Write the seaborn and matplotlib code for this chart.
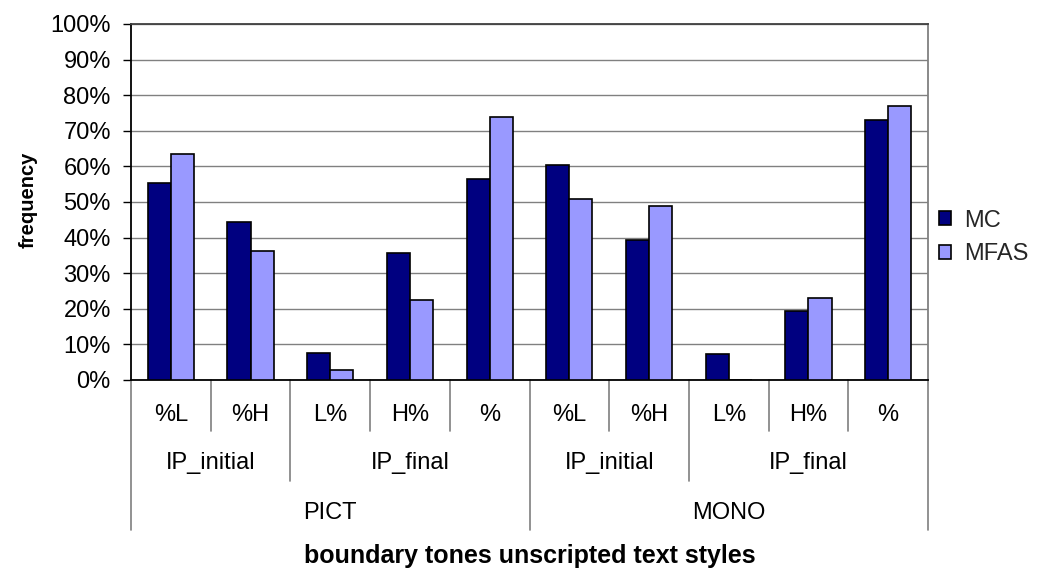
import matplotlib
matplotlib.use("Agg")
import matplotlib.pyplot as plt
import matplotlib.transforms as mtransforms
from matplotlib.ticker import PercentFormatter
import numpy as np
import pandas as pd
import seaborn as sns

# Hierarchical categories: text style > boundary position > boundary tone
styles = ["PICT"] * 5 + ["MONO"] * 5
positions = ["IP_initial", "IP_initial", "IP_final", "IP_final", "IP_final"] * 2
tones = ["%L", "%H", "L%", "H%", "%"] * 2

# Relative frequencies (%) per speaker group
mc = [55.4, 44.5, 7.5, 35.7, 56.4, 60.5, 39.3, 7.4, 19.3, 73.0]
mfas = [63.5, 36.3, 2.9, 22.4, 73.9, 50.9, 48.9, 0.0, 22.9, 77.0]

series_names = ["MC", "MFAS"]
series_colors = ["#000080", "#9999FF"]

keys = [f"{s}|{p}|{t}" for s, p, t in zip(styles, positions, tones)]
df = pd.DataFrame({
    "key": keys * 2,
    "group": ["MC"] * len(keys) + ["MFAS"] * len(keys),
    "value": mc + mfas,
})

sns.set_theme(style="white")
plt.rcParams["font.family"] = ["Liberation Sans", "DejaVu Sans"]

W, H = 1037, 568
fig = plt.figure(figsize=(W / 100, H / 100), dpi=100)
ax_left, ax_right, ax_top, ax_bottom = 131, 928, 24, 380
ax = fig.add_axes([ax_left / W, 1 - ax_bottom / H,
                   (ax_right - ax_left) / W, (ax_bottom - ax_top) / H])

sns.barplot(data=df, x="key", y="value", hue="group", order=keys,
            hue_order=series_names, palette=series_colors, saturation=1,
            width=0.58, edgecolor="black", linewidth=1.2, errorbar=None,
            ax=ax, zorder=3)

ax.set_xlim(-0.5, len(keys) - 0.5)
ax.set_ylim(0, 100)
ax.set_yticks(np.arange(0, 101, 10))
ax.yaxis.set_major_formatter(PercentFormatter(decimals=0))
ax.grid(axis="y", color="#808080", linewidth=1.0, zorder=0)
ax.grid(axis="x", visible=False)
ax.tick_params(axis="y", which="major", left=True, length=5.5, width=1.0,
               color="black", pad=9, labelsize=17, labelcolor="black")
ax.set_xticks([])
ax.set_xlabel("")
ax.set_ylabel("")

for side in ["left", "bottom"]:
    ax.spines[side].set_color("black")
    ax.spines[side].set_linewidth(1.3)
ax.spines["top"].set_color("#404040")
ax.spines["top"].set_linewidth(1.3)
ax.spines["right"].set_color("#808080")
ax.spines["right"].set_linewidth(1.3)


def yfrac(py):
    """Pixel row below the axes -> axes fraction."""
    return (ax_bottom - py) / (ax_bottom - ax_top)


trans = mtransforms.blended_transform_factory(ax.transData, ax.transAxes)
n = len(keys)

# Level 1: tone labels
for i, t in enumerate(tones):
    ax.text(i, yfrac(415), t, transform=trans, ha="center", va="center",
            fontsize=17, color="black", clip_on=False)

# Level 2: position spans
spans2 = []
start = 0
for i in range(1, n + 1):
    if i == n or positions[i] != positions[start] or styles[i] != styles[start]:
        spans2.append((start, i - 1, positions[start]))
        start = i
for a, b, lab in spans2:
    ax.text((a + b) / 2, yfrac(463), lab, transform=trans, ha="center",
            va="center", fontsize=17, color="black", clip_on=False)

# Level 3: style spans
spans3 = []
start = 0
for i in range(1, n + 1):
    if i == n or styles[i] != styles[start]:
        spans3.append((start, i - 1, styles[start]))
        start = i
for a, b, lab in spans3:
    ax.text((a + b) / 2, yfrac(513), lab, transform=trans, ha="center",
            va="center", fontsize=17, color="black", clip_on=False)

# Divider lines between categories, longer where higher levels change
for i in range(n + 1):
    if i == 0 or i == n or styles[i] != styles[i - 1]:
        end = 530
    elif positions[i] != positions[i - 1]:
        end = 481
    else:
        end = 431
    ax.plot([i - 0.5, i - 0.5], [0, yfrac(end)], transform=trans,
            color="#7f7f7f", linewidth=1.2, clip_on=False, zorder=2)

ax.text(0.5, yfrac(556), "boundary tones unscripted text styles",
        transform=ax.transAxes, ha="center", va="center", fontsize=18,
        fontweight="bold", color="black")
fig.text(28 / W, 1 - 200 / H, "frequency", rotation=90, ha="center",
         va="center", fontsize=14.5, fontweight="bold", color="black")

# Legend outside the plot area on the right
handles, labels = ax.get_legend_handles_labels()
if ax.legend_ is not None:
    ax.legend_.remove()
fig.legend(handles, labels, loc="center left",
           bbox_to_anchor=(939 / W, 1 - 237.5 / H), frameon=False,
           fontsize=17, handlelength=0.5, handleheight=0.5,
           handletextpad=0.55, labelspacing=0.5, borderpad=0,
           borderaxespad=0)

fig.savefig("out.png", dpi=100, facecolor="white")
